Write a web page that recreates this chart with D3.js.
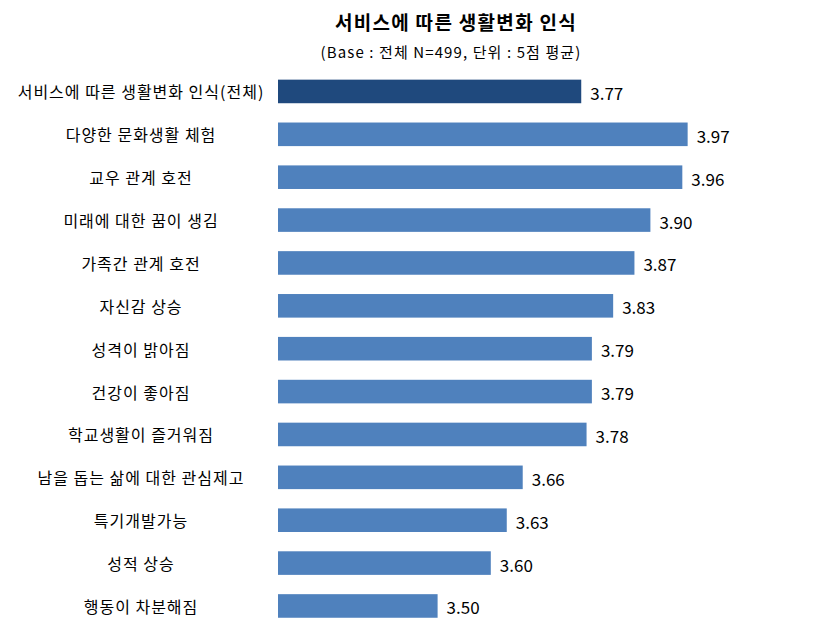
<!DOCTYPE html>
<html><head><meta charset="utf-8">
<script src="https://cdn.jsdelivr.net/npm/d3@7/dist/d3.min.js"></script>
<style>body{margin:0;background:#fff;}svg{display:block;font-family:"Malgun Gothic","Noto Sans CJK KR",sans-serif;}</style>
</head><body><svg id="c" width="839" height="638"></svg>
<script>
const categories = ["서비스에 따른 생활변화 인식(전체)","다양한 문화생활 체험","교우 관계 호전","미래에 대한 꿈이 생김","가족간 관계 호전","자신감 상승","성격이 밝아짐","건강이 좋아짐","학교생활이 즐거워짐","남을 돕는 삶에 대한 관심제고","특기개발가능","성적 상승","행동이 차분해짐"];
const values = [3.77,3.97,3.96,3.90,3.87,3.83,3.79,3.79,3.78,3.66,3.63,3.60,3.50];
const title = "서비스에 따른 생활변화 인식";
const subtitle = "(Base : 전체 N=499, 단위 : 5점 평균)";

const svg = d3.select("#c");
const x = d3.scaleLinear().domain([3.2, 4.2]).range([278, 810]);
const y = d3.scaleBand().domain(categories).range([70, 627.4]).paddingInner(0.45).paddingOuter(0.225);

svg.append("text").attr("x",456).attr("y",30).attr("text-anchor","middle")
  .attr("font-size",19).attr("letter-spacing",1.3).attr("font-weight","bold").attr("fill","#000").text(title);
svg.append("text").attr("x",451).attr("y",58).attr("text-anchor","middle")
  .attr("font-size",15).attr("letter-spacing",1.1).attr("fill","#000").text(subtitle);

svg.selectAll("rect.bar").data(values).join("rect").attr("class","bar")
  .attr("x", x(3.2)).attr("y",(d,i)=>y(categories[i]))
  .attr("width", d=>x(d)-x(3.2)).attr("height", y.bandwidth())
  .attr("fill",(d,i)=> i===0 ? "#1F497D" : "#4F81BD");

svg.selectAll("text.val").data(values).join("text").attr("class","val")
  .attr("x", d=>x(d)+9).attr("y",(d,i)=>y(categories[i])+y.bandwidth()/2+1)
  .attr("dominant-baseline","central").attr("font-size",17).attr("fill","#000")
  .text(d=>d.toFixed(2));

svg.selectAll("text.cat").data(categories).join("text").attr("class","cat")
  .attr("x",141).attr("y",d=>y(d)+y.bandwidth()/2)
  .attr("dominant-baseline","central").attr("text-anchor","middle")
  .attr("font-size",16).attr("letter-spacing",1).attr("fill","#000").text(d=>d);
</script></body></html>
